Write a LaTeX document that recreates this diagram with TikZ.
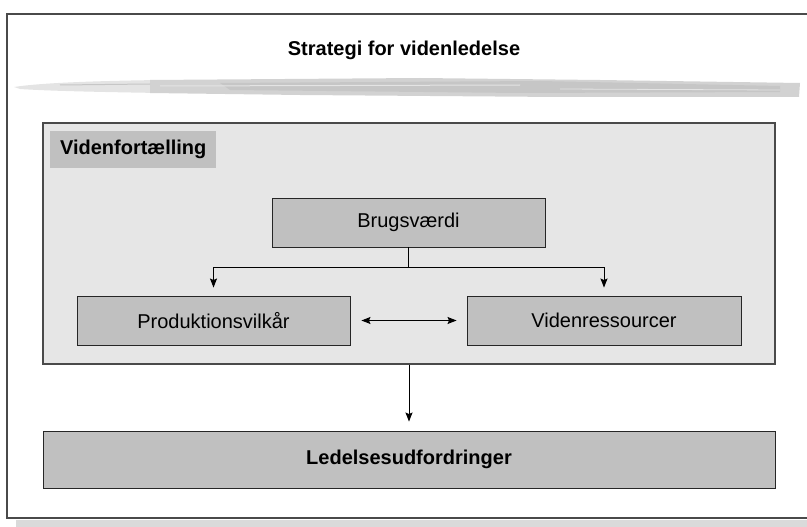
\documentclass[tikz,border=0pt]{standalone}
\usepackage{fontspec}
\setmainfont{Liberation Sans}
\usetikzlibrary{positioning,arrows.meta}

\definecolor{panelgray}{HTML}{E6E6E6}
\definecolor{boxgray}{HTML}{C0C0C0}
\definecolor{framegray}{HTML}{4A4A4A}
\definecolor{shadowgray}{HTML}{DADADA}
\definecolor{brushlight}{HTML}{E4E4E4}
\definecolor{brushmid}{HTML}{D2D2D2}
\definecolor{brushdark}{HTML}{C6C6C6}

\begin{document}
\begin{tikzpicture}[
    x=1pt, y=-1pt,
    box/.style={draw=black!85, fill=boxgray, line width=0.9pt, minimum height=49pt,
                minimum width=273pt, inner sep=0pt, font=\fontsize{20}{24}\selectfont},
    panel/.style={draw=framegray, fill=panelgray, line width=1.2pt, inner sep=0pt},
    tag/.style={fill=boxgray, minimum width=166pt, minimum height=37pt, inner sep=0pt,
                font=\fontsize{20}{24}\selectfont\bfseries},
    ar/.style={-{Stealth[length=9pt,width=7pt,inset=1.5pt]}, line width=1pt},
    dar/.style={{Stealth[length=9pt,width=7pt,inset=1.5pt]}-{Stealth[length=9pt,width=7pt,inset=1.5pt]}, line width=1pt},
]
\useasboundingbox (0,0) rectangle (807,527);

% Outer frame and its shadow.
\fill[shadowgray] (16,520) rectangle (807,527);
\draw[framegray, line width=1.5pt] (7,14) rectangle (815,518);

% Title with the brush stroke under it.
\node[font=\fontsize{20}{24}\selectfont\bfseries] (title) at (404,50) {Strategi for videnledelse};
\fill[brushlight] (14,87) .. controls (40,83) and (90,81) .. (160,80)
    -- (160,93) .. controls (100,92) and (50,91) .. (20,89) -- cycle;
\fill[brushmid] (150,80) -- (420,78) -- (600,80) -- (800,83)
    -- (799,97) -- (560,97) -- (300,95) -- (150,93) -- cycle;
\fill[brushdark] (220,83) -- (540,81) -- (780,86) -- (780,92) -- (520,93) -- (230,90) -- cycle;
\draw[brushlight, line width=1pt] (160,86) -- (520,85);
\draw[brushlight, line width=0.8pt] (560,89) -- (780,90);
\draw[brushdark, line width=1pt] (60,85) -- (150,84);

% Inner panel (knowledge narrative).
\node[panel, minimum width=732pt, minimum height=241pt] (panel) at (409,243.5) {};
\node[tag, anchor=north west] (tagvf) at (50,131) {Videnfortælling};

% The three boxes inside the panel.
\node[box] (bv) at (408.5,222.5) {Brugsværdi};
\node[box] (pv) at (213.5,320.5) {Produktionsvilkår};
\node[box, minimum width=274pt] (vr) at (604,320.5) {Videnressourcer};

% Bottom box.
\node[box, minimum width=732pt, minimum height=57pt, font=\fontsize{20}{24}\selectfont\bfseries]
    (lu) at (409,459.5) {Ledelsesudfordringer};

% Connectors.
\draw[line width=1pt] (bv.south) -- ++(0,20) coordinate (split);
\draw[ar, shorten >=8pt] (split) -| (pv.north);
\draw[ar, shorten >=8pt] (split) -| (vr.north);
\draw[dar, shorten <=11pt, shorten >=10pt] (pv.east) -- (vr.west);
\draw[ar, shorten >=9pt] (panel.south) -- (lu.north);
\end{tikzpicture}
\end{document}
